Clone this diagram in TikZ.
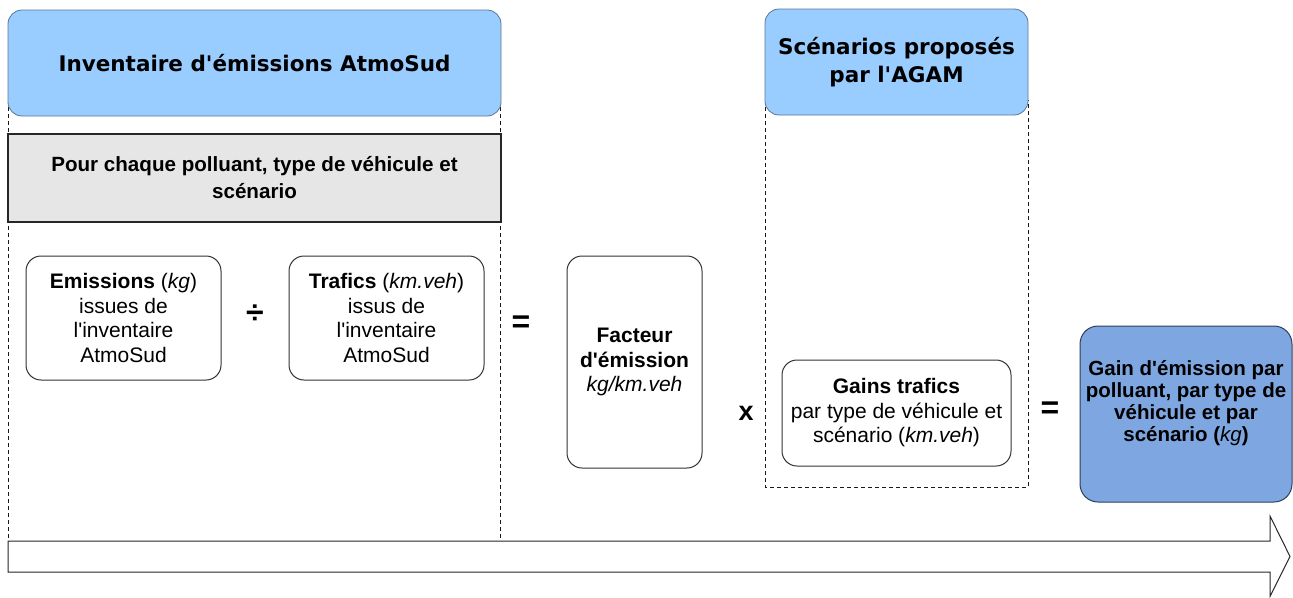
\documentclass[tikz,border=0pt]{standalone}
\usepackage{fontspec}
\setmainfont{Liberation Sans}
\newfontfamily\headfont{DejaVu Sans}
\definecolor{hblue}{HTML}{99CCFF}
\definecolor{hedge}{HTML}{5A7896}
\definecolor{gblue}{HTML}{7EA6E0}
\definecolor{gedge}{HTML}{2E3E58}
\definecolor{hgray}{HTML}{E6E6E6}
\newcommand\ap{\textquotesingle}
\begin{document}
\begin{tikzpicture}[x=1pt,y=-1pt,
  every node/.style={font=\fontsize{21}{24.5}\selectfont, align=center, inner sep=0pt},
  headbox/.style={draw=hedge, fill=hblue, rounded corners=14pt, line width=0.8pt,
    font=\headfont\bfseries\fontsize{21.5}{28}\selectfont},
  graybox/.style={draw=black!85, fill=hgray, line width=1.2pt,
    font=\bfseries\fontsize{20.6}{27}\selectfont},
  card/.style={draw=black!80, fill=white, rounded corners=15pt, line width=1pt},
  resbox/.style={draw=gedge, fill=gblue, rounded corners=18pt, line width=1pt,
    font=\bfseries\fontsize{20.5}{22}\selectfont},
  opsign/.style={font=\bfseries\fontsize{32}{32}\selectfont},
  frameline/.style={draw=black!90, dash pattern=on 4pt off 3pt, line width=0.9pt},
  flowarrow/.style={draw=black!85, fill=white, line width=1pt}
]
\useasboundingbox (0,0) rectangle (1293,597);

% dashed frames
\coordinate (l1) at (8,100);
\coordinate (l2) at (8,541);
\coordinate (r1) at (500,100);
\coordinate (r2) at (500,541);
\draw[frameline] (l1) -- (l2);
\draw[frameline] (r1) -- (r2);
\coordinate (s1) at (765,100);
\coordinate (s2) at (765,487);
\coordinate (s3) at (1028,487);
\coordinate (s4) at (1028,100);
\draw[frameline] (s1) -- (s2) -- (s3) -- (s4);

% headers
\node[headbox, minimum width=493pt, minimum height=106pt] (inv) at (254.5,63)
  {Inventaire d\ap émissions AtmoSud};
\node[headbox, minimum width=263pt, minimum height=106pt] (scen) at (896.5,62)
  {Scénarios proposés\\par l\ap AGAM};
\node[graybox, minimum width=493pt, minimum height=88pt] (pour) at (254.5,178)
  {Pour chaque polluant, type de véhicule et\\scénario};

% cards
\node[card, minimum width=195pt, minimum height=124pt] (emi) at (123.5,318)
  {\textbf{Emissions} (\textit{kg})\\issues de\\l\ap inventaire\\AtmoSud};
\node[opsign] (div) at (255,314) {÷};
\node[card, minimum width=195pt, minimum height=124pt] (tra) at (386.5,318)
  {\textbf{Trafics} (\textit{km.veh})\\issus de\\l\ap inventaire\\AtmoSud};
\node[opsign] (eq1) at (521,324) {=};
\node[card, minimum width=135pt, minimum height=212pt] (fac) at (634.5,362)
  {\textbf{Facteur}\\\textbf{d\ap émission}\\\textit{kg/km.veh}};
\node[opsign, font=\bfseries\fontsize{27}{27}\selectfont] (mul) at (746,413) {x};
\node[card, minimum width=229pt, minimum height=106pt] (gains) at (896.5,413)
  {\textbf{Gains trafics}\\par type de véhicule et\\scénario (\textit{km.veh})};
\node[opsign] (eq2) at (1050,410) {=};
\node[resbox, minimum width=212pt, minimum height=176pt] (gain) at (1186,414) {};
\node[font=\bfseries\fontsize{20.5}{22}\selectfont] (gaintxt) at (1186,403)
  {Gain d\ap émission par\\polluant, par type de\\véhicule et par\\scénario (\textmd{\textit{kg}})};

% flow arrow
\draw[flowarrow] (8,541) -- (1270,541) -- (1270,516) -- (1290,556.5) -- (1270,596.5)
  -- (1270,572) -- (8,572) -- cycle;
\end{tikzpicture}
\end{document}
